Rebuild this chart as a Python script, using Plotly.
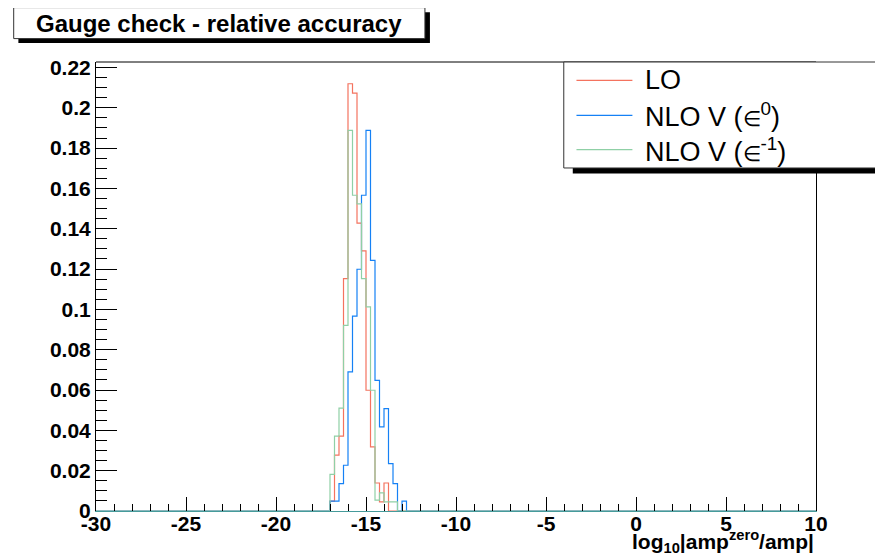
import numpy as np
import plotly.graph_objects as go

# ---------------- data ----------------
X_MIN, X_MAX = -30.0, 10.0
BIN_WIDTH = 0.25
FIRST_EDGE = -17.0  # left edge of the first listed (non-empty region) bin

lo_values = [0.0049, 0.0277, 0.0371, 0.1153, 0.2119, 0.2073, 0.1428, 0.1290,
             0.0599, 0.0318, 0.0139, 0.0045, 0.0139]
nlo_e0_values = [0.0049, 0.0049, 0.0136, 0.0227, 0.0690, 0.0967, 0.1199, 0.1566,
                 0.1888, 0.1243, 0.0648, 0.0417, 0.0508, 0.0235, 0.0136, 0.0, 0.0049]
nlo_em1_values = [0.0182, 0.0371, 0.0510, 0.0921, 0.1888, 0.1566, 0.1523, 0.1153,
                  0.1012, 0.0599, 0.0054, 0.0090, 0.0045, 0.0045, 0.0045]

EPS = '<span style="font-size:21px">\u2208</span>'
series_names = ["LO", "NLO V (" + EPS + "<sup>0</sup>)", "NLO V (" + EPS + "<sup>-1</sup>)"]
series_colors = ["#f4735f", "#1581f5", "#8fd0a6"]

x_tick_vals = [-30, -25, -20, -15, -10, -5, 0, 5, 10]
x_tick_text = ["-30", "-25", "-20", "-15", "-10", "-5", "0", "5", "10"]

title_text = "Gauge check - relative accuracy"
x_title = "log<sub>10</sub>|amp<sup>zero</sup>/amp|"
Y_MAX = 0.2227

# ---------------- build histograms ----------------
n_bins = int(round((X_MAX - X_MIN) / BIN_WIDTH))
edges = X_MIN + BIN_WIDTH * np.arange(n_bins + 1)
start = int(round((FIRST_EDGE - X_MIN) / BIN_WIDTH))


def full_hist(vals):
    h = np.zeros(n_bins)
    h[start:start + len(vals)] = vals
    return np.append(h, h[-1])


FONT = "Arial, Liberation Sans, Helvetica, sans-serif"

fig = go.Figure()
for vals, name, col in zip([lo_values, nlo_e0_values, nlo_em1_values], series_names, series_colors):
    fig.add_trace(go.Scatter(x=edges, y=full_hist(vals), mode="lines", line_shape="hv",
                             line=dict(color=col, width=1.2), name=name, showlegend=False,
                             hoverinfo="skip"))

# page has an 8px body margin: figure origin sits at (8, 8) of the window
OFF = 8
W, H = 883 - OFF, 557 - OFF
# plot area in page pixels
P_L, P_R, P_T, P_B = 95.7, 816.5, 61.7, 510.8
ML, MR, MT, MB = P_L - OFF, W - (P_R - OFF), P_T - OFF, H - (P_B - OFF)
PW, PH = P_R - P_L, P_B - P_T


def px(xp):  # page pixel -> paper
    return (xp - P_L) / PW


def py(yp):
    return (P_B - yp) / PH


shapes = []
# frame top line
shapes.append(dict(type="line", xref="paper", yref="paper", x0=0, x1=1, y0=1, y1=1,
                   line=dict(color="black", width=1), layer="above"))
# title box shadow + box
shapes.append(dict(type="rect", xref="paper", yref="paper", x0=px(18), x1=px(430), y0=py(42.7), y1=py(12),
                   fillcolor="black", line=dict(width=0), layer="above"))
shapes.append(dict(type="rect", xref="paper", yref="paper", x0=px(13.3), x1=px(425), y0=py(38.3), y1=py(7.3),
                   fillcolor="white", line=dict(color="#333333", width=1), layer="above"))
# legend shadow + box
shapes.append(dict(type="rect", xref="paper", yref="paper", x0=px(573), x1=px(920), y0=py(173.3), y1=py(70),
                   fillcolor="black", line=dict(width=0), layer="above"))
shapes.append(dict(type="rect", xref="paper", yref="paper", x0=px(564), x1=px(910), y0=py(167.7), y1=py(61.7),
                   fillcolor="white", line=dict(color="#333333", width=1), layer="above"))

annotations = [dict(text="<b>" + title_text + "</b>", xref="paper", yref="paper", x=px(218.5), y=py(23),
                    xanchor="center", yanchor="middle", showarrow=False,
                    font=dict(family=FONT, size=24, color="black"))]

legend_y = [80, 115, 149.3]
for name, col, ly in zip(series_names, series_colors, legend_y):
    shapes.append(dict(type="line", xref="paper", yref="paper", x0=px(576.7), x1=px(632.7), y0=py(ly), y1=py(ly),
                       line=dict(color=col, width=1.2), layer="above"))
    annotations.append(dict(text=name, xref="paper", yref="paper", x=px(643), y=py(ly), xanchor="left",
                            yanchor="middle", showarrow=False, font=dict(family=FONT, size=27, color="black")))

annotations.append(dict(text="<b>" + x_title + "</b>", xref="paper", yref="paper", x=px(817), y=py(525),
                        xanchor="right", yanchor="top", showarrow=False,
                        font=dict(family=FONT, size=21, color="black")))

fig.update_layout(
    width=W, height=H, margin=dict(l=ML, r=MR, t=MT, b=MB, pad=0, autoexpand=False),
    paper_bgcolor="white", plot_bgcolor="white",
    shapes=shapes, annotations=annotations, showlegend=False,
    xaxis=dict(range=[X_MIN, X_MAX], tickvals=x_tick_vals, ticktext=x_tick_text,
               ticks="inside", ticklen=14, tickcolor="black", tickwidth=1,
               minor=dict(dtick=1, tick0=-30, ticks="inside", ticklen=7, tickcolor="black", showgrid=False),
               showline=True, linecolor="#469b9b", linewidth=1, mirror=False,
               showgrid=False, zeroline=False, layer="above traces", ticklabelstandoff=-6,
               tickfont=dict(family=FONT, size=21, color="black", weight="bold")),
    yaxis=dict(range=[0, Y_MAX], dtick=0.02, tick0=0,
               ticks="inside", ticklen=21, tickcolor="black", tickwidth=1,
               minor=dict(dtick=0.005, tick0=0, ticks="inside", ticklen=11, tickcolor="black", showgrid=False),
               showline=True, linecolor="black", linewidth=1, mirror=True,
               showgrid=False, zeroline=False,
               tickfont=dict(family=FONT, size=21, color="black", weight="bold")),
)

fig.write_html("out.html")
